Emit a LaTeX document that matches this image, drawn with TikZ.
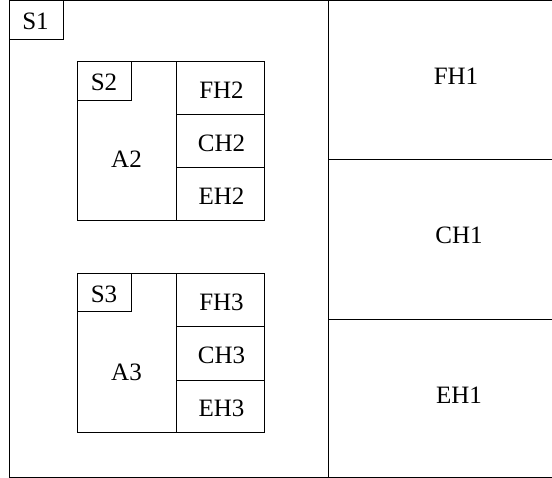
\documentclass[tikz,border=0pt]{standalone}
\usepackage{fontspec}
\setmainfont{Liberation Serif}
\begin{document}
\begin{tikzpicture}[x=1pt,y=-1pt,
  box/.style={draw=black,line width=1pt,inner sep=0pt,outer sep=0pt,anchor=north west},
  lbl/.style={inner sep=0pt,font=\fontsize{25}{26}\selectfont}]
\useasboundingbox (0,0) rectangle (552,478);
% outer frame
\node[box,minimum width=579,minimum height=476] (frame) at (9,1) {};
\node[box,minimum width=54,minimum height=39] (s1box) at (9,1) {};
\node[lbl] (s1) at (35.5,21) {S1};
% right column
\node[box,minimum width=260,minimum height=159] (fh1box) at (328,1) {};
\node[box,minimum width=260,minimum height=160] (ch1box) at (328,160) {};
\node[box,minimum width=260,minimum height=157] (eh1box) at (328,320) {};
\node[lbl] (fh1) at (456,76) {FH1};
\node[lbl] (ch1) at (459,235) {CH1};
\node[lbl] (eh1) at (459,395) {EH1};
% group 2
\node[box,minimum width=99,minimum height=159] (a2box) at (77,62) {};
\node[box,minimum width=54,minimum height=39] (s2box) at (77,62) {};
\node[box,minimum width=88,minimum height=53] (fh2box) at (176,62) {};
\node[box,minimum width=88,minimum height=53] (ch2box) at (176,115) {};
\node[box,minimum width=88,minimum height=53] (eh2box) at (176,168) {};
\node[lbl] (s2) at (104,82.5) {S2};
\node[lbl] (a2) at (126.5,159.5) {A2};
\node[lbl] (fh2) at (221.5,90.5) {FH2};
\node[lbl] (ch2) at (221.5,143) {CH2};
\node[lbl] (eh2) at (221.5,196) {EH2};
% group 3
\node[box,minimum width=99,minimum height=159] (a3box) at (77,274) {};
\node[box,minimum width=54,minimum height=38] (s3box) at (77,274) {};
\node[box,minimum width=88,minimum height=53] (fh3box) at (176,274) {};
\node[box,minimum width=88,minimum height=54] (ch3box) at (176,327) {};
\node[box,minimum width=88,minimum height=52] (eh3box) at (176,381) {};
\node[lbl] (s3) at (104,294) {S3};
\node[lbl] (a3) at (126.5,372) {A3};
\node[lbl] (fh3) at (221.5,302.5) {FH3};
\node[lbl] (ch3) at (221.5,355.5) {CH3};
\node[lbl] (eh3) at (221.5,408.5) {EH3};
\end{tikzpicture}
\end{document}
